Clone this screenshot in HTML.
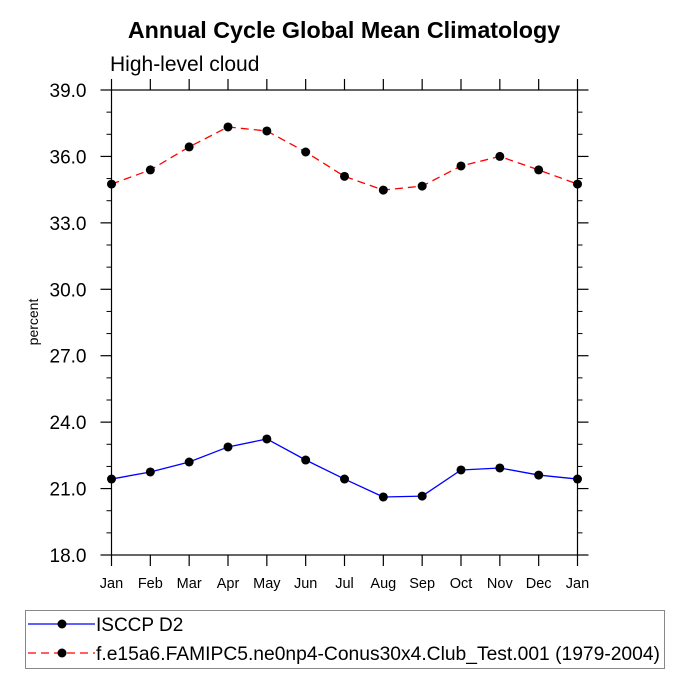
<!DOCTYPE html>
<html><head><meta charset="utf-8"><style>
body{margin:0;background:#fff}
svg text{font-family:"Liberation Sans",Helvetica,sans-serif}
</style></head><body>
<svg id="chart" width="689" height="689" xmlns="http://www.w3.org/2000/svg">
<rect width="689" height="689" fill="#fff"/>
<text x="344" y="38" text-anchor="middle" font-size="23.3" font-weight="bold">Annual Cycle Global Mean Climatology</text>
<text x="110" y="71" font-size="21">High-level cloud</text>
<text transform="translate(38,322) rotate(-90)" text-anchor="middle" font-size="14">percent</text>
<g id="axes"></g>
<g id="series"></g>
<g>
<rect x="25.5" y="610.5" width="639" height="58" fill="none" stroke="#888" stroke-width="1"/>
<g>
<line x1="28" y1="624" x2="95" y2="624" stroke="#0000ff" stroke-width="1.3"/>
<circle cx="62" cy="624" r="4.5" fill="#000"/>
<text x="96" y="631" font-size="19">ISCCP D2</text>
</g>
<g>
<line x1="28" y1="653" x2="95" y2="653" stroke="#ff0000" stroke-width="1.3" stroke-dasharray="8,5"/>
<circle cx="62" cy="653" r="4.5" fill="#000"/>
<text x="96" y="660" font-size="19.25">f.e15a6.FAMIPC5.ne0np4-Conus30x4.Club_Test.001 (1979-2004)</text>
</g>
</g>
</svg>
<script>
const months=["Jan","Feb","Mar","Apr","May","Jun","Jul","Aug","Sep","Oct","Nov","Dec","Jan"];
const isccp=[21.43,21.75,22.2,22.88,23.24,22.29,21.43,20.62,20.66,21.84,21.93,21.61,21.43];
const model=[34.75,35.39,36.43,37.33,37.15,36.2,35.1,34.48,34.66,35.57,36.0,35.39,34.75];
const yTicks=[18,21,24,27,30,33,36,39];
const NS="http://www.w3.org/2000/svg";
const L=111.5,R=577.5,T=90,B=555,yMin=18,yMax=39;
const xs=i=>L+(R-L)*i/(months.length-1);
const ys=v=>B-(v-yMin)/(yMax-yMin)*(B-T);
function mk(t,a,p){const e=document.createElementNS(NS,t);for(const k in a)e.setAttribute(k,a[k]);p.appendChild(e);return e;}
const ax=document.getElementById('axes');
const frame=mk('rect',{x:L,y:T,width:R-L,height:B-T,fill:'none',stroke:'#000','stroke-width':1.2},ax);


yTicks.forEach((v,i)=>{
  const y=ys(v);
  mk('line',{x1:L-11,y1:y,x2:L,y2:y,stroke:'#000','stroke-width':1.2},ax);
  mk('line',{x1:R,y1:y,x2:R+11,y2:y,stroke:'#000','stroke-width':1.2},ax);
  if(i<yTicks.length-1){for(const m of [1,2]){const ym=ys(v+m);
    mk('line',{x1:L-5,y1:ym,x2:L,y2:ym,stroke:'#000','stroke-width':1},ax);
    mk('line',{x1:R,y1:ym,x2:R+5,y2:ym,stroke:'#000','stroke-width':1},ax);}}
  const t=mk('text',{x:L-25,y:y+7,'text-anchor':'end','font-size':19},ax);
  t.textContent=v.toFixed(1);
  
  
});
months.forEach((m,i)=>{
  const x=xs(i);
  mk('line',{x1:x,y1:B,x2:x,y2:B+11,stroke:'#000','stroke-width':1.2},ax);
  mk('line',{x1:x,y1:T-11,x2:x,y2:T,stroke:'#000','stroke-width':1.2},ax);
  const t=mk('text',{x:x,y:B+33,'text-anchor':'middle','font-size':14.5},ax);
  t.textContent=m;
  
  
});
const sg=document.getElementById('series');
function draw(vals,color,dash,name){
  const g=mk('g',{},sg);
  
  
  const a={points:vals.map((v,i)=>xs(i)+','+ys(v)).join(' '),fill:'none',stroke:color,'stroke-width':1.3};
  if(dash)a['stroke-dasharray']=dash;
  mk('polyline',a,g);
  vals.forEach((v,i)=>{const c=mk('circle',{cx:xs(i),cy:ys(v),r:4.5,fill:'#000'},g);
    
    });
}
draw(isccp,'#0000ff',null,'series-isccp');
draw(model,'#ff0000','8,5','series-model');
</script>
</body></html>
